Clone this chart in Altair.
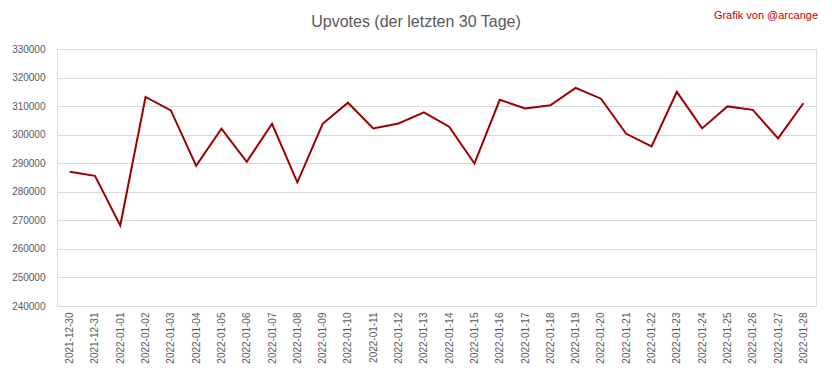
import altair as alt
import pandas as pd

dates = ["2021-12-30", "2021-12-31", "2022-01-01", "2022-01-02", "2022-01-03",
         "2022-01-04", "2022-01-05", "2022-01-06", "2022-01-07", "2022-01-08",
         "2022-01-09", "2022-01-10", "2022-01-11", "2022-01-12", "2022-01-13",
         "2022-01-14", "2022-01-15", "2022-01-16", "2022-01-17", "2022-01-18",
         "2022-01-19", "2022-01-20", "2022-01-21", "2022-01-22", "2022-01-23",
         "2022-01-24", "2022-01-25", "2022-01-26", "2022-01-27", "2022-01-28"]
upvotes = [287000, 285600, 268200, 313200, 308500,
           289100, 302100, 290500, 303800, 283300,
           303800, 311200, 302200, 303900, 307800,
           302800, 289900, 312200, 309200, 310300,
           316400, 312600, 300300, 295900, 315000,
           302200, 309900, 308700, 298700, 311000]
y_ticks = [240000, 250000, 260000, 270000, 280000, 290000, 300000, 310000, 320000, 330000]
title_text = "Upvotes (der letzten 30 Tage)"
credit_text = "Grafik von @arcange"

df = pd.DataFrame({"date": dates, "upvotes": upvotes})
FONT = "Liberation Sans"
GREY = "#595959"

line = alt.Chart(df).mark_line(color="#9b0000", strokeWidth=2).encode(
    x=alt.X("date:O", sort=None, title=None,
            scale=alt.Scale(type="point", padding=0.5),
            axis=alt.Axis(labelAngle=270, labelFont=FONT, labelFontSize=10,
                          labelColor=GREY, ticks=False, domain=True,
                          domainColor="#d9d9d9", labelPadding=6)),
    y=alt.Y("upvotes:Q", title=None,
            scale=alt.Scale(domain=[240000, 330000], nice=False, zero=False),
            axis=alt.Axis(values=y_ticks, format="d", labelFont=FONT, labelFontSize=10,
                          labelColor=GREY, ticks=False, domain=False,
                          gridColor="#d9d9d9", labelPadding=12)),
)

title = alt.Chart(pd.DataFrame({"t": [title_text]})).mark_text(
    align="center", baseline="middle", font=FONT, fontSize=16, color=GREY
).encode(text="t:N", x=alt.value(359), y=alt.value(-27))

credit = alt.Chart(pd.DataFrame({"t": [credit_text]})).mark_text(
    align="right", baseline="middle", font=FONT, fontSize=11, color="#c00000"
).encode(text="t:N", x=alt.value(761), y=alt.value(-33))

chart = alt.layer(line, title, credit).properties(
    width=759, height=257,
    autosize=alt.AutoSizeParams(type="none"),
    padding={"left": 49, "top": 41, "right": 8, "bottom": 65},
).configure_view(stroke=None).configure(background="white")

chart.save("out.html", embed_options={"renderer": "svg", "actions": False})
